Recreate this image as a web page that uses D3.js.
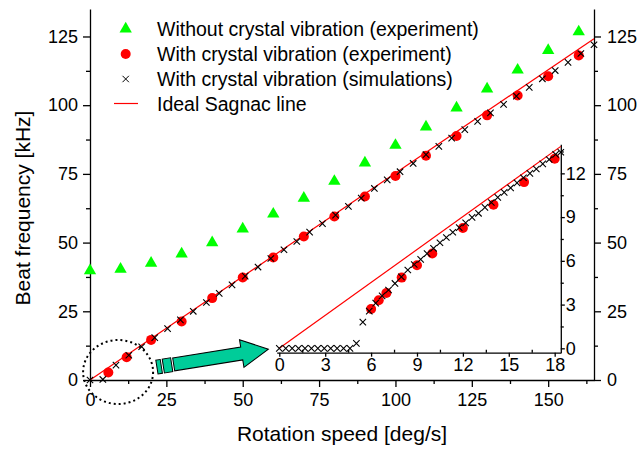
<!DOCTYPE html>
<html>
<head>
<meta charset="utf-8">
<script src="https://cdn.jsdelivr.net/npm/d3@7"></script>
<style>
  body { margin: 0; background: #fff; }
  svg { display: block; font-family: "Liberation Sans", Arial, sans-serif; }
  .axis path, .axis line { stroke: #000; stroke-width: 1.3; }
  .axis text { font-size: 18px; fill: #000; font-family: "Liberation Sans", Arial, sans-serif; }
</style>
</head>
<body>
<svg></svg>
<script>
// beat frequency vs rotation speed
const speedNoVib = [0, 10, 20, 30, 40, 50, 60, 70, 80, 90, 100, 110, 120, 130, 140, 150, 160];
const beatNoVib = [39.8, 40.3, 42.5, 45.9, 50.0, 55.0, 60.4, 66.2, 72.3, 79.0, 85.4, 92.1, 99.0, 105.9, 112.8, 119.9, 126.7];

const speedVib = [6, 12, 20, 30, 40, 50, 60, 70, 80, 90, 100, 110, 120, 130, 140, 150, 160];
const beatVib = [2.7, 8.3, 14.6, 21.3, 29.8, 37.3, 44.6, 52.2, 59.5, 66.8, 74.2, 81.6, 88.8, 96.3, 103.5, 110.5, 118.1];

const speedSim = [0, 4.2, 8.5, 12.7, 16.9, 21.2, 25.4, 29.6, 33.8, 38.1, 42.3, 46.5, 50.8, 55.0, 59.2, 63.5,
  67.7, 71.9, 76.1, 80.4, 84.6, 88.8, 93.1, 97.3, 101.5, 105.8, 110.0, 114.2, 118.4, 122.7, 126.9, 131.1,
  135.4, 139.6, 143.8, 148.1, 152.3, 156.5, 160.7, 165.0];
const beatSim = [0, 0.2, 5.4, 9.0, 12.1, 15.4, 18.7, 21.9, 25.0, 28.2, 31.5, 34.6, 37.8, 41.1, 44.2, 47.4,
  50.4, 53.8, 56.9, 60.0, 63.2, 66.2, 69.7, 72.8, 75.8, 78.8, 82.0, 85.0, 88.0, 91.1, 94.1, 97.2,
  100.3, 103.3, 106.5, 109.6, 112.6, 115.6, 118.8, 122.0];

const sagnacSpeed = [0, 165];
const sagnacBeat = [0, 124.2];

// inset (zoom on low speeds)
const insetSpeedVib = [6, 6.5, 7, 8, 9, 10, 12, 14, 16, 18];
const insetBeatVib = [2.7, 3.3, 3.8, 4.85, 5.7, 6.5, 8.25, 9.85, 11.4, 13.0];

const insetSpeedSim = [0, 0.42, 0.84, 1.26, 1.68, 2.1, 2.52, 2.94, 3.36, 3.78, 4.2, 4.62, 5.04, 5.46, 5.88,
  6.3, 6.72, 7.14, 7.56, 7.98, 8.4, 8.82, 9.24, 9.66, 10.08, 10.5, 10.92, 11.34, 11.76, 12.18, 12.6,
  13.02, 13.44, 13.86, 14.28, 14.7, 15.12, 15.54, 15.96, 16.38, 16.8, 17.22, 17.64, 18.06, 18.4];
const insetBeatSim = [0, 0, 0, 0, 0, 0, 0, 0, 0, 0, 0, 0, 0.34, 1.8, 2.55,
  3.1, 3.6, 4.0, 4.45, 4.9, 5.37, 5.75, 6.1, 6.5, 6.86, 7.24, 7.6, 7.96, 8.28, 8.6, 8.98,
  9.26, 9.67, 10.0, 10.35, 10.7, 11.0, 11.35, 11.7, 12.0, 12.3, 12.65, 12.95, 13.3, 13.45];

const insetSagnacSpeed = [0, 18.4];
const insetSagnacBeat = [0, 13.85];

const xTicks = [0, 25, 50, 75, 100, 125, 150];
const xMinor = [12.5, 37.5, 62.5, 87.5, 112.5, 137.5, 162.5];
const yTicks = [0, 25, 50, 75, 100, 125];
const yMinor = [12.5, 37.5, 62.5, 87.5, 112.5];
const ixTicks = [0, 3, 6, 9, 12, 15, 18];
const ixMinor = [1.5, 4.5, 7.5, 10.5, 13.5, 16.5];
const iyTicks = [0, 3, 6, 9, 12];
const iyMinor = [1.5, 4.5, 7.5, 10.5, 13.5];

const legendLabels = [
  "Without crystal vibration (experiment)",
  "With crystal vibration (experiment)",
  "With crystal vibration (simulations)",
  "Ideal Sagnac line"
];

const width = 641, height = 449;
const svg = d3.select("svg").attr("width", width).attr("height", height);

const x = d3.scaleLinear().domain([0, 165]).range([90, 594]);
const y = d3.scaleLinear().domain([0, 135]).range([380, 9]);
const xi = d3.scaleLinear().domain([-0.17, 18.4]).range([276.7, 560.8]);
const yi = d3.scaleLinear().domain([-0.3, 14]).range([352.7, 144.2]);

const green = "#00ff00", red = "#ff0000", teal = "#00cc99";

function zip(a, b) { return a.map((v, i) => [v, b[i]]); }

// axes
function axis(gen, tx, ty, ticks, size, pad, labels) {
  return svg.append("g").attr("class", "axis").attr("transform", `translate(${tx},${ty})`)
    .call(gen.tickValues(ticks).tickSize(size).tickSizeOuter(0).tickPadding(pad)
      .tickFormat(labels ? d3.format("d") : ""));
}

axis(d3.axisBottom(x), 0, 380, xTicks, 7, 6, true);
axis(d3.axisBottom(x), 0, 380, xMinor, 4, 0, false).select(".domain").remove();
axis(d3.axisLeft(y), 90, 0, yTicks, 7, 5, true);
axis(d3.axisLeft(y), 90, 0, yMinor, 4, 0, false).select(".domain").remove();
axis(d3.axisRight(y), 594, 0, yTicks, 7, 6, true);
axis(d3.axisRight(y), 594, 0, yMinor, 4, 0, false).select(".domain").remove();

// inset axes
axis(d3.axisBottom(xi), 0, 352.7, ixTicks, 4, 2, true);
axis(d3.axisBottom(xi), 0, 352.7, ixMinor, -3, 0, false).select(".domain").remove();
axis(d3.axisRight(yi), 560.8, 0, iyTicks, 4, 1, true);
axis(d3.axisRight(yi), 560.8, 0, iyMinor, 3, 0, false).select(".domain").remove();

// axis titles
svg.append("text").attr("x", 342).attr("y", 441).attr("text-anchor", "middle")
  .attr("font-size", 21).text("Rotation speed [deg/s]");
svg.append("text").attr("transform", "translate(30,208) rotate(-90)").attr("text-anchor", "middle")
  .attr("font-size", 21).text("Beat frequency [kHz]");

// ideal Sagnac lines
const line = d3.line();
svg.append("path").attr("d", line(zip(sagnacSpeed, sagnacBeat).map(d => [x(d[0]), y(d[1])])))
  .attr("stroke", red).attr("stroke-width", 1.2).attr("fill", "none");
svg.append("path").attr("d", line(zip(insetSagnacSpeed, insetSagnacBeat).map(d => [xi(d[0]), yi(d[1])])))
  .attr("stroke", red).attr("stroke-width", 1.2).attr("fill", "none");

const tri = d3.symbol().type(d3.symbolTriangle).size(66);
const cross = "M-3.2,-3.2L3.2,3.2M-3.2,3.2L3.2,-3.2";

function drawSet(sx, sy, xs, ys, kind) {
  const g = svg.append("g");
  const pts = zip(xs, ys);
  if (kind === "tri") {
    g.selectAll("path").data(pts).join("path")
      .attr("d", tri).attr("fill", green)
      .attr("transform", d => `translate(${sx(d[0])},${sy(d[1])})`);
  } else if (kind === "dot") {
    g.selectAll("circle").data(pts).join("circle")
      .attr("cx", d => sx(d[0])).attr("cy", d => sy(d[1])).attr("r", 5).attr("fill", red);
  } else {
    g.selectAll("path").data(pts).join("path")
      .attr("d", cross).attr("stroke", "#000").attr("stroke-width", 1.1).attr("fill", "none")
      .attr("transform", d => `translate(${sx(d[0])},${sy(d[1])})`);
  }
}

drawSet(x, y, speedNoVib, beatNoVib, "tri");
drawSet(x, y, speedVib, beatVib, "dot");
drawSet(x, y, speedSim, beatSim, "x");
drawSet(xi, yi, insetSpeedVib, insetBeatVib, "dot");
drawSet(xi, yi, insetSpeedSim, insetBeatSim, "x");

// dotted circle around the low-speed region
svg.append("ellipse")
  .attr("cx", x(9.2)).attr("cy", y(2.9)).attr("rx", 35).attr("ry", 32)
  .attr("fill", "none").attr("stroke", "#000").attr("stroke-width", 2)
  .attr("stroke-dasharray", "2,3");

// arrow pointing to the inset
const tail = [x(21.9), y(4.7)], tip = [x(58.4), y(11.2)];
const L = Math.hypot(tip[0] - tail[0], tip[1] - tail[1]);
const ang = Math.atan2(tip[1] - tail[1], tip[0] - tail[0]) * 180 / Math.PI;
const arrow = svg.append("g").attr("transform", `translate(${tail[0]},${tail[1]}) rotate(${ang})`);
const hb = L - 27;
arrow.append("rect").attr("x", 0).attr("y", -7).attr("width", 4.5).attr("height", 14);
arrow.append("rect").attr("x", 6.5).attr("y", -7).attr("width", 8.5).attr("height", 14);
arrow.append("path").attr("d", `M17,-6.5L${hb},-6.5L${hb},-14L${L},0L${hb},14L${hb},6.5L17,6.5Z`);
arrow.selectAll("rect,path").attr("fill", teal).attr("stroke", "#000").attr("stroke-width", 1);

// legend
const legend = svg.append("g");
const rows = [29, 54, 79, 103.5];
legend.append("path").attr("d", tri).attr("fill", green).attr("transform", `translate(125.7,${rows[0]})`);
legend.append("circle").attr("cx", 125.7).attr("cy", rows[1]).attr("r", 5).attr("fill", red);
legend.append("path").attr("d", cross).attr("stroke", "#000").attr("fill", "none")
  .attr("transform", `translate(125.7,${rows[2]})`);
legend.append("line").attr("x1", 114).attr("x2", 138).attr("y1", rows[3]).attr("y2", rows[3])
  .attr("stroke", red).attr("stroke-width", 1.2);
legend.selectAll("text").data(legendLabels).join("text")
  .attr("x", 157).attr("y", (d, i) => rows[i]).attr("dy", "0.36em")
  .attr("font-size", 19.5).text(d => d);
</script>
</body>
</html>
